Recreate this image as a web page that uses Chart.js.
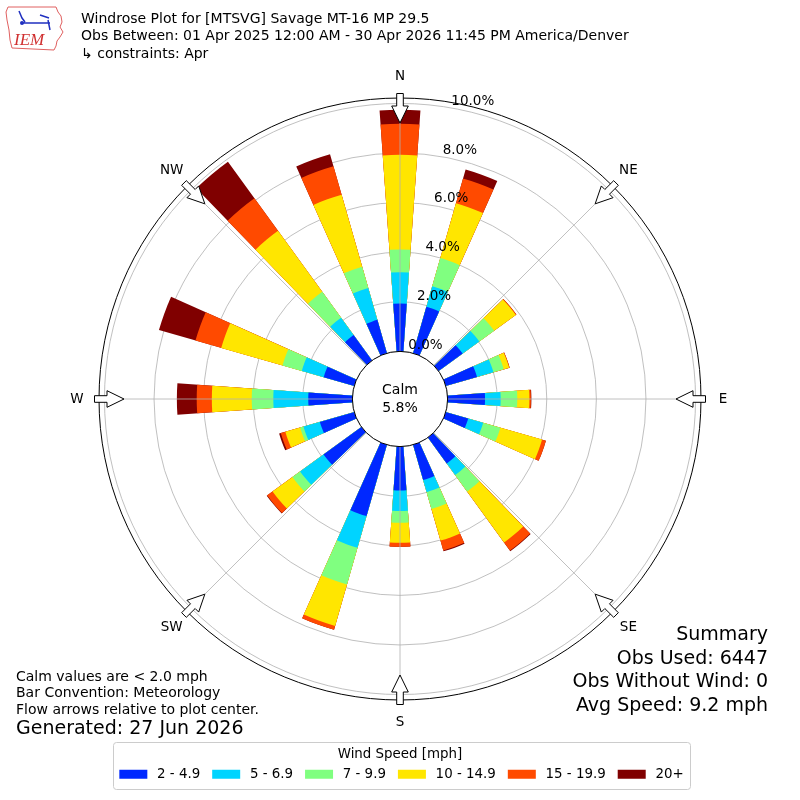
<!DOCTYPE html>
<html lang="en">
<head>
<meta charset="UTF-8">
<title>Windrose Plot - MTSVG Savage MT-16 MP 29.5</title>
<script src="https://cdn.jsdelivr.net/npm/chart.js@4"></script>
<style>
  html, body { margin: 0; padding: 0; background: #fff; }
</style>
</head>
<body>
<canvas id="rose" width="800" height="800"></canvas>
<script>
// 16 compass directions; obs are reported in tens of degrees so each bar sits at its bin's angle
const directions = ['N', 'NNE', 'NE', 'ENE', 'E', 'ESE', 'SE', 'SSE', 'S', 'SSW', 'SW', 'WSW', 'W', 'WNW', 'NW', 'NNW'];
const barAngles = [0, 20, 50, 70, 90, 110, 140, 160, 180, 200, 230, 250, 270, 290, 320, 340];
const speedBins = ['2 - 4.9', '5 - 6.9', '7 - 9.9', '10 - 14.9', '15 - 19.9', '20+'];
const binColors = ['#0028ff', '#00d4ff', '#80ff80', '#ffe600', '#ff4a00', '#800000'];

// percent of observations per direction, one array per speed bin
const spd2to5   = [1.93, 1.95, 1.20, 1.31, 1.51, 0.94, 1.29, 1.48, 1.77, 2.99, 1.89, 1.44, 1.78, 1.28, 1.27, 1.40];
const spd5to7   = [1.26, 0.86, 0.83, 0.69, 0.63, 0.63, 0.58, 0.51, 0.83, 1.33, 1.17, 0.69, 1.41, 0.92, 0.86, 1.34];
const spd7to10  = [0.92, 1.18, 0.74, 0.43, 0.67, 0.72, 0.82, 0.70, 0.47, 1.54, 0.38, 0.14, 0.87, 0.81, 1.29, 0.89];
const spd10to15 = [3.82, 2.30, 1.08, 0.23, 0.49, 1.75, 2.54, 1.33, 0.81, 1.74, 0.99, 0.62, 1.61, 2.57, 3.04, 3.02];
const spd15to20 = [1.25, 1.04, 0.03, 0.02, 0.06, 0.16, 0.40, 0.41, 0.16, 0.16, 0.27, 0.19, 0.61, 1.08, 1.62, 1.19];
const spd20plus = [0.57, 0.38, 0.00, 0.00, 0.02, 0.00, 0.03, 0.04, 0.00, 0.00, 0.02, 0.07, 0.80, 1.53, 1.82, 0.51];
const speedSeries = [spd2to5, spd5to7, spd7to10, spd10to15, spd15to20, spd20plus];

const calmPct = 5.8;
const radialTicks = [0, 2, 4, 6, 8, 10];
const compassLabels = ['N', 'NE', 'E', 'SE', 'S', 'SW', 'W', 'NW'];

const titleLines = [
    'Windrose Plot for [MTSVG] Savage MT-16 MP 29.5',
    'Obs Between: 01 Apr 2025 12:00 AM - 30 Apr 2026 11:45 PM America/Denver',
    '\u21b3 constraints: Apr'
];
const noteLines = ['Calm values are < 2.0 mph', 'Bar Convention: Meteorology', 'Flow arrows relative to plot center.'];
const generatedText = 'Generated: 27 Jun 2026';
const summaryLines = ['Summary', 'Obs Used: 6447', 'Obs Without Wind: 0', 'Avg Speed: 9.2 mph'];

const FONT = '"DejaVu Sans", sans-serif';
const GRID = '#b0b0b0';

// stacked totals: each dataset reaches the top of its speed bin
const stacked = [];
let running = directions.map(() => 0);
speedSeries.forEach(series => {
    running = running.map((v, i) => v + series[i]);
    stacked.push(running.slice());
});

const deg = d => d * Math.PI / 180;

// point on the radial scale, angle in canvas radians
function polar(s, a, dist) {
    return { x: s.xCenter + Math.cos(a) * dist, y: s.yCenter + Math.sin(a) * dist };
}

// bar width in degrees (sectors are 22.5)
const barWidthDeg = 8.1;

const windrosePlugin = {
    id: 'windrose',
    beforeDraw(chart) {
        const ctx = chart.ctx;
        ctx.save();
        ctx.fillStyle = '#fff';
        ctx.fillRect(0, 0, chart.width, chart.height);
        ctx.restore();
    },
    afterDatasetsUpdate(chart) {
        // move each arc from its sector centre to the bin angle and narrow it
        chart.data.datasets.forEach((ds, i) => {
            chart.getDatasetMeta(i).data.forEach((arc, j) => {
                const mid = (arc.startAngle + arc.endAngle) / 2 + deg(barAngles[j] - j * 22.5);
                arc.startAngle = mid - deg(barWidthDeg / 2);
                arc.endAngle = mid + deg(barWidthDeg / 2);
            });
        });
    },
    afterDatasetsDraw(chart) {
        const ctx = chart.ctx;
        const s = chart.scales.r;
        const r0 = s.getDistanceFromCenterForValue(0);
        const rMax = s.getDistanceFromCenterForValue(s.max);
        ctx.save();

        // 45 degree spokes over the bars
        ctx.strokeStyle = GRID;
        ctx.lineWidth = 0.8;
        compassLabels.forEach((lab, k) => {
            const a = deg(k * 45) - Math.PI / 2;
            const p0 = polar(s, a, r0);
            const p1 = polar(s, a, rMax);
            ctx.beginPath();
            ctx.moveTo(p0.x, p0.y);
            ctx.lineTo(p1.x, p1.y);
            ctx.stroke();
        });

        // calm circle
        ctx.beginPath();
        ctx.arc(s.xCenter, s.yCenter, r0, 0, Math.PI * 2);
        ctx.fillStyle = '#fff';
        ctx.fill();
        ctx.strokeStyle = '#000';
        ctx.lineWidth = 1;
        ctx.stroke();
        ctx.fillStyle = '#000';
        ctx.font = '14px ' + FONT;
        ctx.textAlign = 'center';
        ctx.textBaseline = 'middle';
        ctx.fillText('Calm', s.xCenter, s.yCenter - 9);
        ctx.fillText(calmPct.toFixed(1) + '%', s.xCenter, s.yCenter + 9);

        // radial tick labels
        ctx.font = '13.5px ' + FONT;
        ctx.textAlign = 'left';
        ctx.textBaseline = 'bottom';
        radialTicks.forEach(v => {
            const p = polar(s, deg(10) - Math.PI / 2, s.getDistanceFromCenterForValue(v));
            ctx.fillText(v.toFixed(1) + '%', p.x, p.y);
        });

        // compass labels and inward flow arrows
        ctx.textAlign = 'center';
        ctx.textBaseline = 'middle';
        compassLabels.forEach((lab, k) => {
            const a = deg(k * 45) - Math.PI / 2;
            const lp = polar(s, a, rMax + 22);
            ctx.fillStyle = '#000';
            ctx.fillText(lab, lp.x, lp.y);

            const R = s.drawingArea;
            const pt = (r, off) => {
                const p = polar(s, a, r);
                return [p.x - Math.sin(a) * off, p.y + Math.cos(a) * off];
            };
            const shape = [
                pt(R + 4.5, -3.3), pt(R - 8, -3.3), pt(R - 8, -8.3), pt(R - 25, 0),
                pt(R - 8, 8.3), pt(R - 8, 3.3), pt(R + 4.5, 3.3)
            ];
            ctx.beginPath();
            shape.forEach((q, i) => i ? ctx.lineTo(q[0], q[1]) : ctx.moveTo(q[0], q[1]));
            ctx.closePath();
            ctx.fillStyle = '#fff';
            ctx.fill();
            ctx.strokeStyle = '#000';
            ctx.lineWidth = 1;
            ctx.stroke();
        });
        ctx.restore();
    },
    afterDraw(chart) {
        const ctx = chart.ctx;
        ctx.save();
        ctx.fillStyle = '#000';
        ctx.textBaseline = 'middle';

        // header
        ctx.textAlign = 'left';
        ctx.font = '14px ' + FONT;
        titleLines.forEach((t, i) => ctx.fillText(t, 81, 19 + i * 17.5));

        // notes bottom left
        ctx.font = '14px ' + FONT;
        noteLines.forEach((t, i) => ctx.fillText(t, 16, 677 + i * 16.5));
        ctx.font = '19px ' + FONT;
        ctx.fillText(generatedText, 16, 729);

        // summary bottom right
        ctx.textAlign = 'right';
        summaryLines.forEach((t, i) => ctx.fillText(t, 768, 635 + i * 23.7));

        // legend frame
        const lg = chart.legend;
        if (lg && lg.legendHitBoxes.length) {
            const hb = lg.legendHitBoxes;
            const rowMid = hb[0].top + hb[0].height / 2;
            const x0 = Math.min(...hb.map(h => h.left)) - 3;
            const x1 = Math.max(...hb.map(h => h.left + h.width)) + 7;
            const y0 = rowMid - 32.6;
            const y1 = rowMid + 14;
            ctx.strokeStyle = '#cccccc';
            ctx.lineWidth = 1;
            ctx.beginPath();
            ctx.roundRect(Math.round(x0) + 0.5, Math.round(y0) + 0.5, Math.round(x1 - x0), Math.round(y1 - y0), 3);
            ctx.stroke();
        }

        // IEM logo (simplified)
        ctx.strokeStyle = '#e06060';
        ctx.lineWidth = 1;
        ctx.beginPath();
        [[8, 7], [56, 7], [58, 12], [61, 16], [62, 22], [60, 27], [63, 32], [60, 37], [57, 41], [56, 46], [54, 50],
         [12, 48], [10, 40], [9, 30], [7, 20], [6, 12]].forEach((q, i) => i ? ctx.lineTo(q[0], q[1]) : ctx.moveTo(q[0], q[1]));
        ctx.closePath();
        ctx.stroke();
        ctx.strokeStyle = '#2030c0';
        ctx.lineWidth = 1.5;
        ctx.beginPath();
        ctx.moveTo(22, 23); ctx.lineTo(50, 23);
        ctx.moveTo(19, 11); ctx.lineTo(22, 18); ctx.lineTo(25, 22);
        ctx.moveTo(40, 15); ctx.lineTo(49, 18);
        ctx.moveTo(48, 20); ctx.lineTo(50, 30);
        ctx.stroke();
        ctx.beginPath();
        ctx.arc(22, 23, 2, 0, Math.PI * 2);
        ctx.fillStyle = '#2030c0';
        ctx.fill();
        ctx.fillStyle = '#d03030';
        ctx.font = 'italic 17px "Liberation Serif", serif';
        ctx.textAlign = 'left';
        ctx.textBaseline = 'alphabetic';
        ctx.fillText('IEM', 14, 45);
        ctx.restore();
    }
};

Chart.defaults.font.family = FONT;
Chart.defaults.color = '#000';

new Chart(document.getElementById('rose'), {
    type: 'polarArea',
    data: {
        labels: directions,
        datasets: speedBins.map((label, k) => ({
            label: label,
            data: stacked[k],
            backgroundColor: binColors[k],
            borderWidth: 0
        }))
    },
    options: {
        responsive: false,
        animation: false,
        events: [],
        layout: { padding: { top: 98, bottom: 8.2, left: 0, right: 0 } },
        scales: {
            r: {
                min: -1.92,
                max: 10.22,
                startAngle: -11.25,
                afterBuildTicks: scale => {
                    scale.ticks = radialTicks.concat([scale.max]).map(v => ({ value: v }));
                },
                ticks: { display: false },
                pointLabels: { display: false },
                angleLines: { display: false },
                grid: {
                    circular: true,
                    color: c => (c.tick && c.tick.value > 10 ? '#000' : GRID),
                    lineWidth: c => (c.tick && c.tick.value > 10 ? 1 : 0.8)
                }
            }
        },
        plugins: {
            tooltip: { enabled: false },
            legend: {
                position: 'bottom',
                title: {
                    display: true,
                    text: 'Wind Speed [mph]',
                    font: { size: 13.4 },
                    padding: { top: 47.6, bottom: -5.9 }
                },
                labels: {
                    // white outline trims the swatch to 28x9 and opens the gap to the text
                    boxWidth: 34,
                    boxHeight: 15,
                    padding: 9,
                    font: { size: 13.4 },
                    generateLabels: chart => chart.data.datasets.map((ds, i) => ({
                        text: ds.label,
                        fillStyle: ds.backgroundColor,
                        strokeStyle: '#fff',
                        lineWidth: 6,
                        hidden: false,
                        datasetIndex: i
                    }))
                }
            }
        }
    },
    plugins: [windrosePlugin]
});
</script>
</body>
</html>
